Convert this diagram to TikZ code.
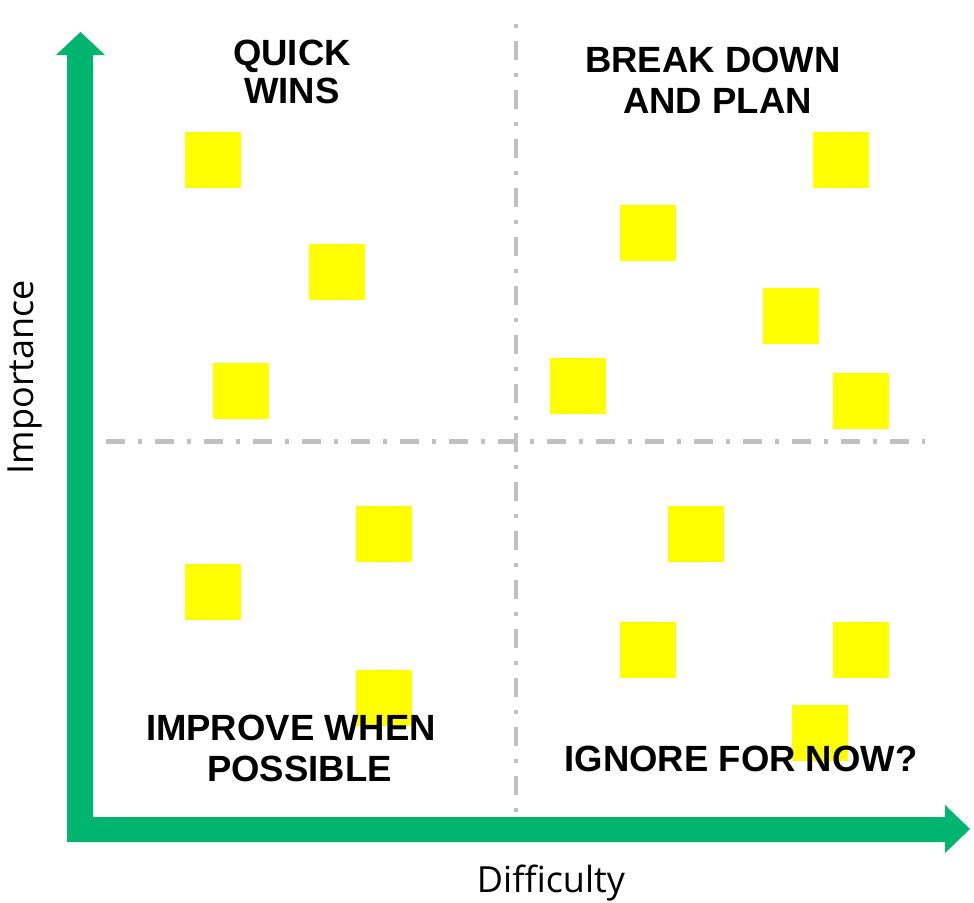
\documentclass[tikz,border=0pt]{standalone}
\usepackage{fontspec}
\newfontfamily\hdfont{Liberation Sans}
\newfontfamily\lblfont{Open Sans}
\definecolor{axgreen}{RGB}{2,181,110}
\definecolor{dashgrey}{RGB}{192,192,192}
\definecolor{stickyyellow}{RGB}{255,255,0}
\begin{document}
\begin{tikzpicture}[x=1pt,y=-1pt,
  sticky/.style={fill=stickyyellow,draw=none,minimum size=56pt,inner sep=0pt,outer sep=0pt},
  quadtitle/.style={anchor=base,inner sep=0pt,font=\hdfont\bfseries\fontsize{36.5}{38}\selectfont,text=black},
  axlabel/.style={anchor=base,inner sep=0pt,font=\lblfont\fontsize{36}{40}\selectfont,text=black},
  divider/.style={draw=dashgrey,line width=4.5pt,dash pattern=on 19pt off 13pt on 4pt off 13pt}
]
\useasboundingbox[fill=white] (0,0) rectangle (974,902);
% dividers
\coordinate (hL) at (93,441.5);
\coordinate (hR) at (925,441.5);
\coordinate (vT) at (516,24);
\coordinate (vB) at (516,822);
\draw[divider,dash phase=36pt] (hL) -- (hR);
\draw[divider,dash phase=32pt] (vT) -- (vB);
% stickies
\node[sticky] (s1) at (213,160) {};
\node[sticky] (s2) at (337,272) {};
\node[sticky] (s3) at (241,391) {};
\node[sticky] (s4) at (841,160) {};
\node[sticky] (s5) at (648,233) {};
\node[sticky] (s6) at (791,316) {};
\node[sticky] (s7) at (578,386) {};
\node[sticky] (s8) at (861,401) {};
\node[sticky] (s9) at (384,534) {};
\node[sticky] (s10) at (213,592) {};
\node[sticky] (s11) at (384,698) {};
\node[sticky] (s12) at (696,534) {};
\node[sticky] (s13) at (648,650) {};
\node[sticky] (s14) at (861,650) {};
\node[sticky] (s15) at (820,733) {};
% quadrant titles
\node[quadtitle] (qw1) at (292,65) {QUICK};
\node[quadtitle] (qw2) at (292,103) {WINS};
\node[quadtitle] (bd1) at (713,72) {BREAK DOWN};
\node[quadtitle] (bd2) at (717.5,113) {AND PLAN};
\node[quadtitle] (ip1) at (291,740) {IMPROVE WHEN};
\node[quadtitle] (ip2) at (299.5,781) {POSSIBLE};
\node[quadtitle] (ig) at (741,771) {IGNORE FOR NOW?};
% axes
\fill[axgreen] (67,842) -- (67,55) -- (56,55) -- (80.5,32) -- (105,55) -- (93,55) -- (93,817)
  -- (945,817) -- (945,805) -- (970,829) -- (945,853) -- (945,842) -- cycle;
% axis labels
\node[axlabel] (xl) at (551,892) {Difficulty};
\node[axlabel,rotate=90] (yl) at (33,377) {Importance};
\end{tikzpicture}
\end{document}
